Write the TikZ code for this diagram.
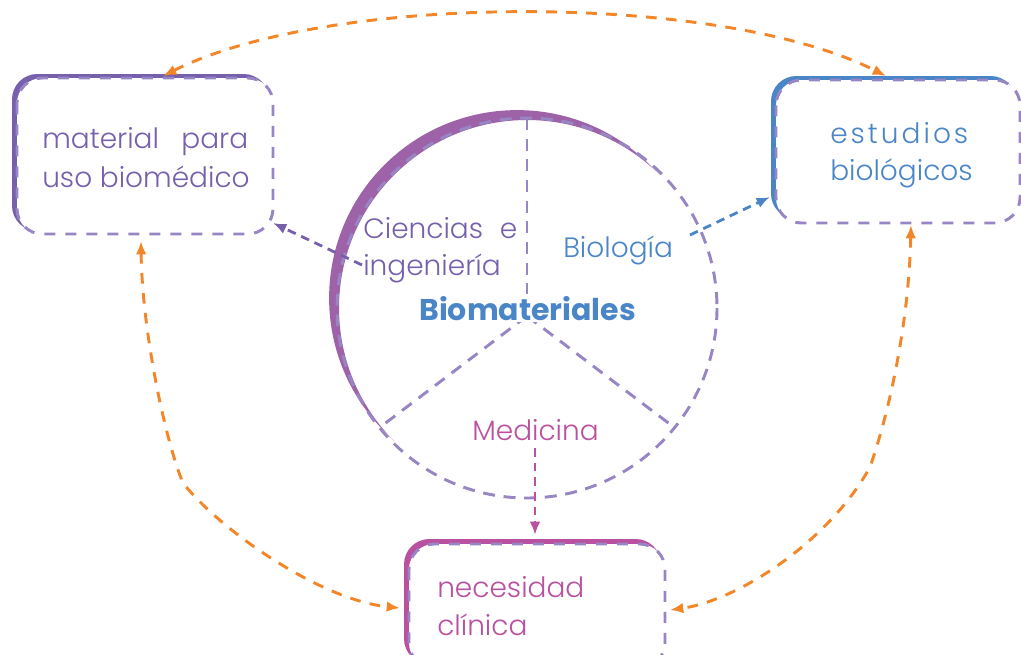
\documentclass[tikz,border=0pt]{standalone}
\usepackage{fontspec}
\setmainfont{Poppins}[UprightFont={* Light}, BoldFont={* Bold}]
\usetikzlibrary{arrows.meta}
\definecolor{lav}{RGB}{152,134,196}
\definecolor{purp}{RGB}{118,96,172}
\definecolor{cres}{RGB}{157,98,168}
\definecolor{blu}{RGB}{74,134,199}
\definecolor{mag}{RGB}{186,80,160}
\definecolor{orng}{RGB}{242,134,40}
\tikzset{
  boxdash/.style={draw=lav, line width=2.2pt, dash pattern=on 8.25pt off 7.5pt, rounded corners=19pt},
  circdash/.style={draw=lav, line width=2.2pt, dash pattern=on 9pt off 6.5pt},
  orarrow/.style={draw=orng, line width=2.2pt, dash pattern=on 8pt off 7pt, {Latex[length=10pt,width=8pt]}-{Latex[length=10pt,width=8pt]}},
  shortarrow/.style={line width=2.1pt, dash pattern=on 6.5pt off 4.5pt, -{Latex[length=10pt,width=8pt]}},
  txt/.style={inner sep=0pt, anchor=base west, font=\fontsize{21}{25}\selectfont},
}
\begin{document}
\begin{tikzpicture}[x=0.75pt,y=-0.75pt]
\useasboundingbox (0,0) rectangle (1021,654);
\clip (0,0) rectangle (1021,654);
% box 1
\fill[purp, rounded corners=19pt] (12,74) rectangle (269,231);
\fill[white, rounded corners=19pt] (17,78) rectangle (273,234);
\draw[boxdash] (17,78) rectangle (273,234);
% box 2
\fill[blu, rounded corners=19pt] (771,76) rectangle (1016,219);
\fill[white, rounded corners=19pt] (776,80) rectangle (1020,223);
\draw[boxdash] (776,80) rectangle (1020,223);
% box 3
\fill[mag, rounded corners=19pt] (404,539) rectangle (661,664);
\fill[white, rounded corners=19pt] (409,544) rectangle (665,668);
\draw[boxdash] (409,544) rectangle (665,668);
% circle
\fill[cres] ([shift={(517.1,298.1)}]-45:188) arc[start angle=-45, end angle=-225, radius=188]
  -- ([shift={(527,308)}]-225:188) arc[start angle=-225, end angle=-45, radius=188] -- cycle;
\draw[circdash] (527,308) circle[radius=190];
\coordinate (yc) at (527,316);
\coordinate (ytop) at (527,118);
\coordinate (yl) at (379,428);
\coordinate (yr) at (675,428);
\draw[circdash] (yc) -- (ytop);
\draw[circdash] (yc) -- (yl);
\draw[circdash] (yc) -- (yr);
% texts
\node[txt, text=purp] (t1a) at (42,148) {\makebox[154.5pt][s]{material\hfill para}};
\node[txt, text=purp] (t1b) at (42,187) {uso biomédico};
\node[txt, text=blu] (t2a) at (830,143) {\makebox[103.5pt][s]{e\hfill s\hfill t\hfill u\hfill d\hfill i\hfill o\hfill s}};
\node[txt, text=blu] (t2b) at (830,180) {biológicos};
\node[txt, text=mag] (t3a) at (437,597) {necesidad};
\node[txt, text=mag] (t3b) at (437,635) {clínica};
\node[txt, text=purp] (cia) at (363,238) {\makebox[115.5pt][s]{Ciencias\hfill e}};
\node[txt, text=purp] (cib) at (363,275) {ingeniería};
\node[txt, text=blu] (bio) at (563,257) {Biología};
\node[txt, text=mag] (med) at (472,440) {Medicina};
\node[txt, text=blu, fill=white, inner sep=1.5pt, font=\fontsize{22.5}{27}\bfseries] (bm) at (417,320) {Biomateriales};
% arrow endpoints
\coordinate (b1top) at (163,76);
\coordinate (b2top) at (886,76);
\coordinate (b1bot) at (141,241);
\coordinate (lc) at (183,483);
\coordinate (b3left) at (400,608);
\coordinate (b2bot) at (911,225);
\coordinate (rc) at (870,467);
\coordinate (b3right) at (670,610);
\coordinate (cs) at (362,265);
\coordinate (b1br) at (273,223);
\coordinate (bs) at (690,235);
\coordinate (b2l) at (770,197);
\coordinate (ms) at (535,448);
\coordinate (b3t) at (535,535);
\draw[orarrow] (b1top) .. controls (330,-8) and (720,-8) .. (b2top);
\draw[orarrow] (b1bot) .. controls (142,330) and (165,440) .. (lc) .. controls (220,530) and (320,600) .. (b3left);
\draw[orarrow] (b2bot) .. controls (909,320) and (890,410) .. (rc) .. controls (830,540) and (740,600) .. (b3right);
\draw[shortarrow, purp] (cs) -- (b1br);
\draw[shortarrow, blu] (bs) -- (b2l);
\draw[shortarrow, mag] (ms) -- (b3t);
\end{tikzpicture}
\end{document}
